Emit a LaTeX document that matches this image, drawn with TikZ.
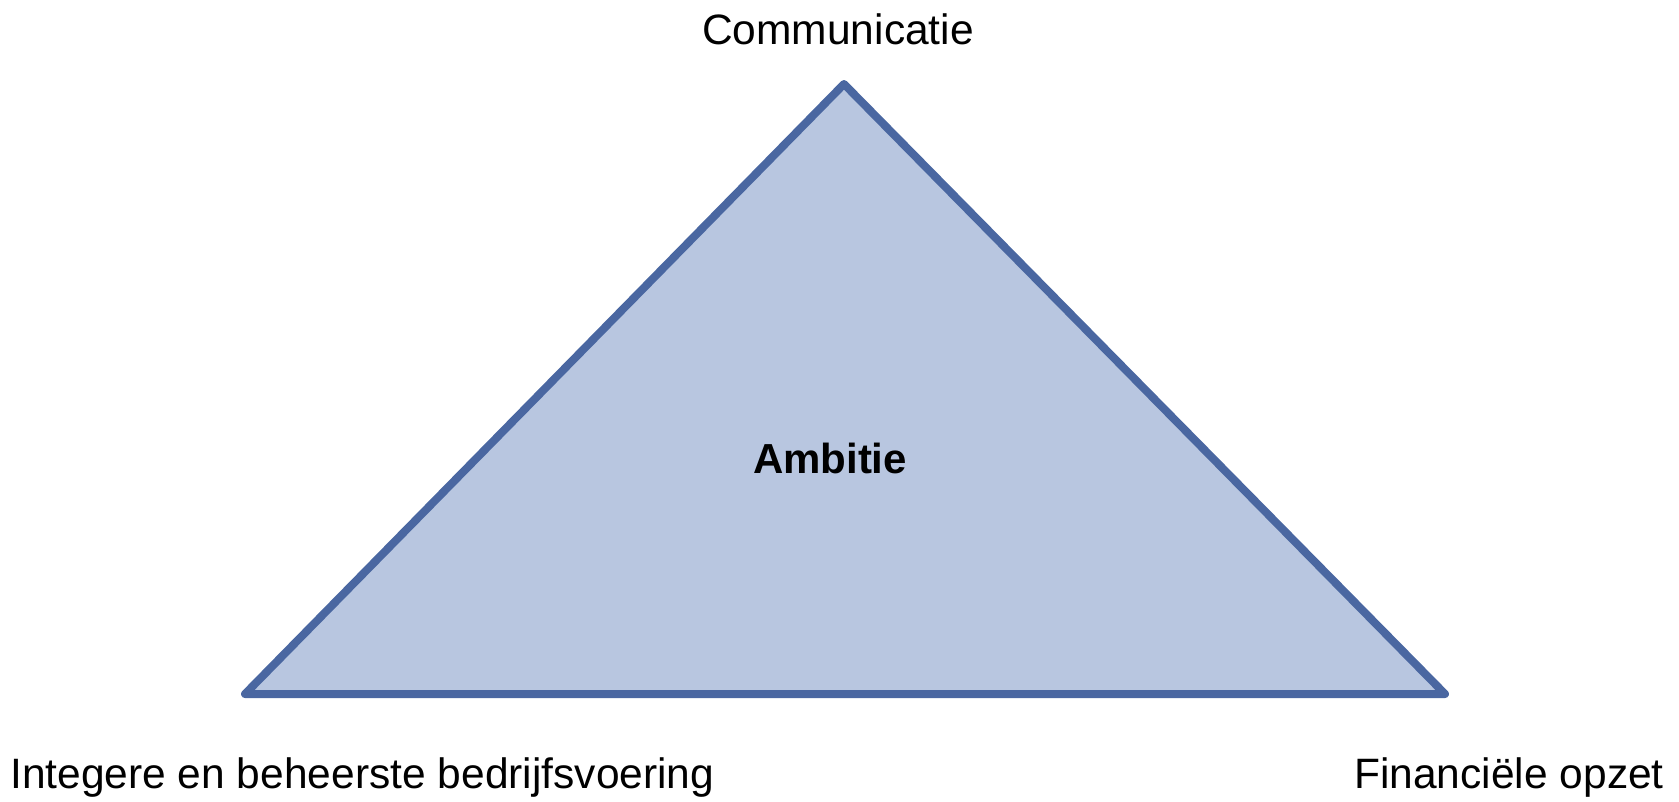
\documentclass[tikz,border=0pt]{standalone}
\usepackage{fontspec}
\setmainfont{Liberation Sans}
\definecolor{triFill}{HTML}{B8C6E0}
\definecolor{triLine}{HTML}{4A67A1}
\begin{document}
\begin{tikzpicture}[x=1pt,y=-1pt,
  lbl/.style={inner sep=0pt,font=\fontsize{42.5}{50}\selectfont},
  tri/.style={fill=triFill,draw=triLine,line width=8pt,line join=round}]
\useasboundingbox (0,0) rectangle (1679,801);
\coordinate (top) at (844,84);
\coordinate (bl) at (245,694);
\coordinate (br) at (1445,694);
\draw[tri] (top) -- (br) -- (bl) -- cycle;
\node[lbl,anchor=base] (comm) at (838,44) {Communicatie};
\node[lbl,anchor=base,font=\fontsize{42}{50}\bfseries] (amb) at (830,473) {Ambitie};
\node[lbl,anchor=base west] (integ) at (10,788) {Integere en beheerste bedrijfsvoering};
\node[lbl,anchor=base east] (fin) at (1664,788) {Financiële opzet};
\end{tikzpicture}
\end{document}
